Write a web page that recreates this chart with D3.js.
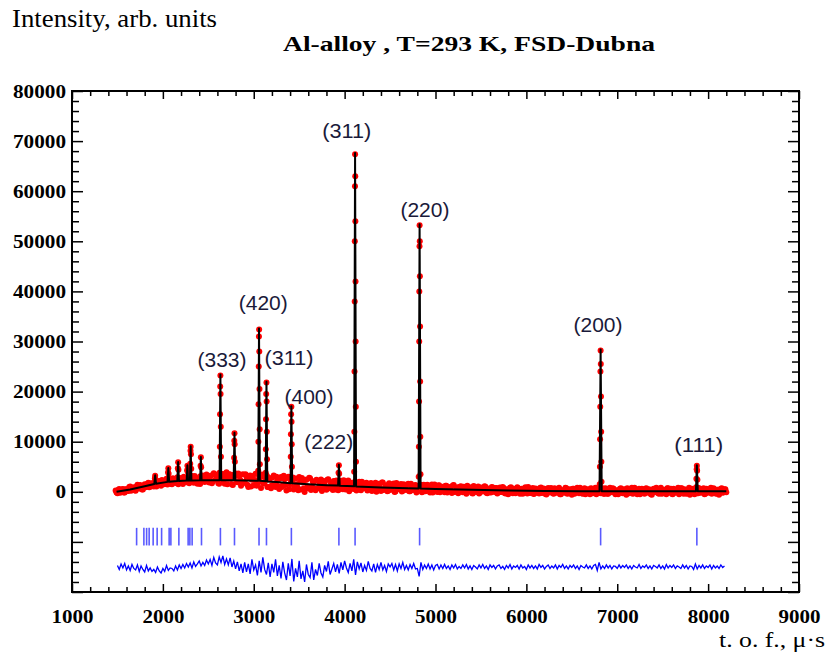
<!DOCTYPE html>
<html><head><meta charset="utf-8">
<script src="https://cdn.jsdelivr.net/npm/d3@7"></script>
<style>body{margin:0;background:#fff}</style>
</head><body>
<svg id="chart" width="829" height="662"></svg>
<script>
// ---------- data ----------
const xMajorTicks = [1000, 2000, 3000, 4000, 5000, 6000, 7000, 8000, 9000];
const yMajorTicks = [-20000, -10000, 0, 10000, 20000, 30000, 40000, 50000, 60000, 70000, 80000];
const yLabelTicks = [0, 10000, 20000, 30000, 40000, 50000, 60000, 70000, 80000];

// observed intensities, background part, set A (tof = obsStartA + i*obsStep)
const obsStartA = 1480, obsStep = 20;
const obsBgA = [
  250, -300, 570, -30, 580, -140, 500, 160, 1040, 460,
  930, 220, 1420, 640, 1030, 460, 1520, 1070, 1830, 1020,
  1700, 1060, 2320, 1590, 2170, 1190, 2120, 1580, 2600, 1850,
  2550, 1510, 2360, 1750, 2910, 2010, 2750, 1580, 2350, 1890,
  2890, 2020, 3160, 1800, 2660, 1630, 2820, 2200, 3250, 1940,
  3470, 2000, 3120, 1730, 3720, 2430, 3250, 1590, 3530, 2570,
  1590, 3900, 2590, 3430, 1470, 3010, 3650, 1890, 3210, 1220,
  3510, 2000, 2990, 980, 3270, 2410, 1300, 3590, 1620, 2600,
  780, 3050, 1920, 3290, 960, 2630, 1300, 3270, 940, 2160,
  580, 2950, 1320, 2490, 260, 2980, 1500, 2180, 460, 2640,
  920, 2950, 480, 1860, -60, 2420, 700, 2680, 1060, 2040,
  320, 2200, 785, 2470, 1055, 1840, 425, 2510, 795, 1580,
  2165, 450, 1635, 920, 2205, 490, 1775, 960, 2240, 520,
  1500, 580, 1760, 740, 2020, 300, 1490, 880, 1820, 410,
  1550, 140, 1225, 1810, 395, 1080, 165, 1850, 635, 1320,
  210, 1500, 490, 1680, 70, 1060, 550, 1540, 230, 1320,
  410, 1600, 90, 1080, 470, 1360, 150, 940, 1430, 20,
  1310, 200, 1090, -120, 1470, 360, 950, -60, 1330, 220,
  1010, -100, 1190, 280, 770, -240, 1350, 40, 930, 120,
  1110, -100, 695, -410, 985, 480, -225, 1170, 65, 760,
  -350, 840, 130, 1120, -190, 600, -110, 980, 175, 770,
  -335, 660, -45, 950, -255, 440, -465, 830, 125, 620,
  -285, 910, 5, 500, -405, 690, -115, 980, -225, 370,
  -435, 660, 255, -350, 850, -155, 545, -560, 740, 35,
  630, -370, 430, -70, 830, -470, 330, -170, 730, -270,
  525, -575, 625, 25, 825, -275, 325, -375, 725, -75,
  420, -480, 620, -180, 820, 20, 520, -280, 720, -380,
  410, -390, 810, 10, 610, -490, 310, -190, 710, -290,
  510, -590, 410, 110, 810, -290, 210, -490, 610, -90,
  410, -390, 710, -190, 310, -590, 610, 10, 510, -390,
  810, -290, 210, -490, 710, 110, -390, 610, -190, 410,
  -490, 710, -90, 510, -390, 310, -590, 610, 10, 410,
  -290, 710, -190, 410, -490, 610, 10, 510, -390, 710,
  -290, 410, -590, 610, -190, 510, -90
];

// observed intensities, background part, set B (tof = obsStartB + i*obsStep)
const obsStartB = 1490;
const obsBgB = [
  -150, 420, -170, 460, -160, 510, 280, 940, 210, 730,
  310, 990, 720, 1350, 480, 1160, 900, 1600, 900, 1650,
  1140, 1900, 1050, 1860, 1570, 2380, 1530, 2330, 1480, 2270,
  1570, 2710, 1900, 2530, 1500, 2420, 1840, 3000, 2110, 2730,
  1700, 2610, 2020, 3130, 1840, 2445, 1550, 2850, 2150, 3000,
  2770, 1850, 3240, 2130, 3520, 2610, 1700, 3290, 2280, 3570,
  3105, 1495, 3485, 2575, 1365, 3255, 2045, 3635, 2425, 1615,
  1805, 3495, 1385, 2875, 1065, 3155, 2345, 1230, 3510, 1990,
  3465, 1635, 2805, 975, 2445, 715, 2885, 1655, 3025, 1095,
  2665, 935, 3205, 1375, 2745, 515, 1990, 2870, 950, 1530,
  310, 1990, 2770, 650, 2430, 1110, 2790, 370, 2050, 630,
  2410, 692, 1678, 162, 2148, 1032, 2418, 702, 1688, 372,
  958, 2242, 328, 1812, 698, 2282, 468, 1450, 130, 1810,
  890, 1970, 250, 1530, 410, 1995, 685, 1675, 265, 1255,
  1745, 332, 1318, 2, 1588, 572, 1858, 342, 1028, 115,
  1705, 395, 1385, -25, 1765, 555, 1245, 35, 1525, 415,
  1405, 95, 1585, 375, 1265, -145, 1045, 835, -75, 1415,
  105, 1395, 285, 1175, -135, 1455, 345, 1235, -75, 915,
  105, 1195, -115, 975, 265, 1255, -55, 735, -275, 1015,
  105, 998, -108, 1188, 182, 878, -328, 668, -38, 1056,
  -155, 735, 125, 1015, -295, 595, -115, 878, -28, 768,
  -138, 858, -48, 748, -358, 438, 32, 928, -278, 518,
  -88, 708, -398, 598, 92, 888, -318, 478, -228, 768,
  -340, 458, -45, 750, -250, 648, -455, 342, -160, 735,
  -270, 730, -170, 530, -470, 330, 30, 830, -370, 430,
  -175, 625, -375, 425, -75, 825, -275, 225, -475, 525,
  -80, 720, -280, 420, -480, 620, -180, 320, -380, 720,
  -390, 510, -90, 710, -190, 210, -490, 610, 10, 410,
  -90, 710, -290, 410, -390, 810, -190, 310, -490, 610,
  -200, 600, 0, 500, -500, 400, -100, 800, -300, 300,
  -400, 400, -200, 700, -100, 600, -500, 300, 0, 800,
  -200, 700, -400, 300, -300, 800, -100, 500, -500, 400,
  -300, 600, 0, 700, -400, 400, -200, 800, -100, 500,
  -400, 400, -200, 700, -100, 500
];

// observed intensities on the Bragg peaks [tof, counts]
const obsPeaks = [
  [1909,1900],[1912,2700],[1915,3200],[1918,2500],[1921,1850],
  [2054,2500],[2057,3900],[2060,4700],[2063,3600],[2066,2400],
  [2162,2800],[2165,4700],[2168,5900],[2171,4400],[2174,2700],
  [2264,2800],[2267,4300],[2270,5200],[2273,4000],[2276,2700],
  [2298,3300],[2301,5600],[2304,8200],[2306,9000],[2309,7500],[2312,4600],[2315,2900],
  [2412,3100],[2415,5200],[2418,6900],[2421,4900],[2424,3000],
  [2624,3800],[2627,9000],[2629,15500],[2631,21000],[2633,23200],[2635,19500],[2637,13000],[2639,7000],[2642,3500],
  [2781,3400],[2784,6800],[2786,10200],[2788,11700],[2790,9500],[2792,6000],[2795,3200],
  [3049,4200],[3051,10000],[3053,17500],[3055,25000],[3057,31000],[3059,32400],[3061,28000],[3063,20500],[3065,12500],[3067,5500],
  [3131,3800],[3133,8500],[3135,14500],[3137,19500],[3140,21800],[3142,18000],[3144,12000],[3146,6500],[3149,3000],
  [3405,3000],[3407,7000],[3409,11500],[3411,15500],[3414,17000],[3416,14000],[3418,9500],[3420,5000],[3423,2400],
  [3930,2000],[3933,3800],[3937,5300],[3940,3600],[3944,1900],
  [4105,4000],[4107,12000],[4109,24000],[4111,38000],[4112,50000],[4114,61000],[4115,67400],[4117,63000],[4118,54000],[4120,42000],[4121,30000],[4123,17000],[4125,6000],
  [4815,3000],[4817,9000],[4819,18000],[4821,30000],[4822,40000],[4824,49000],[4825,53200],[4827,50000],[4828,43000],[4830,33000],[4831,22000],[4833,11000],[4835,3500],
  [6807,1500],[6809,5000],[6811,10500],[6813,17000],[6815,24000],[6817,28200],[6819,25500],[6821,19000],[6823,12000],[6825,6000],[6827,2000],
  [7868,900],[7871,2600],[7874,4500],[7876,5200],[7879,4200],[7882,2400],[7885,800]
];

// calculated profile [tof, counts]
const calcPts = [
  [1490,0],[1640,450],[1800,1100],
  [1906,1570],[1915,3300],[1924,1620],
  [2051,1980],[2060,4760],[2069,2000],
  [2159,2150],[2168,5960],[2177,2160],
  [2262,2250],[2270,5300],[2277,2260],
  [2298,2270],[2306,9100],[2314,2280],
  [2410,2300],[2418,6970],[2426,2300],
  [2624,2300],[2633,23400],[2642,2300],
  [2779,2300],[2788,11800],[2797,2290],
  [2900,2250],
  [3049,2200],[3058,32600],[3067,2190],
  [3131,2100],[3140,21960],[3149,2080],
  [3250,1950],
  [3405,1720],[3414,17100],[3423,1700],
  [3600,1500],[3800,1320],
  [3928,1240],[3937,5400],[3946,1230],
  [4104,1090],[4115,67600],[4126,1070],
  [4400,870],[4600,750],
  [4814,660],[4825,53400],[4836,640],
  [5000,550],[5400,400],[5800,250],[6200,180],[6600,130],
  [6805,120],[6817,28400],[6829,120],
  [7200,110],[7600,100],
  [7866,100],[7876,5300],[7886,100],
  [8200,100]
];

// Bragg reflection positions
const braggTof = [1711, 1791, 1821, 1849, 1893, 1937, 1986, 2069, 2088, 2176, 2278, 2297, 2322, 2425,
                  2633, 2788, 3058, 3140, 3414, 3937, 4115, 4825, 6817, 7876];
const braggTop = -7200, braggBottom = -10700;

// difference curve (obs - calc), drawn shifted by diffOffset
const diffStart = 1500, diffStep = 20, diffOffset = -15000;
const diffVals = [
  300, -500, 600, -200, 700, -600, 200, -700, 500, -300,
  -600, 400, -900, 200, -500, -1000, 300, -800, -200, -900,
  -500, -1100, 0, -800, -1200, -300, -900, 300, -700, -200,
  -300, -800, 200, -600, 400, -300, 500, -200, 700, 0,
  800, -200, 1000, 100, 600, 1200, 200, 900, 300, 1400,
  600, 1500, 300, 1900, 800, 400, 2000, 900, 2200, 500,
  1600, 400, 1800, 0, 1200, -400, 1000, -800, 600, -1200,
  900, -1000, 600, -1400, 1500, -600, 400, -1700, 1200, -1100,
  1900, -500, -1500, 800, -2000, 600, -1100, 1500, -1800, 300,
  -2300, 1000, -1200, -2600, 700, -1800, 1600, -2900, -300, -2000,
  1200, -2400, -800, -3000, 500, -1500, -2100, 900, -2600, -500,
  -1700, 700, -1200, -2000, 300, -900, 1100, -1500, -400, 700,
  -1000, 500, -1300, 900, -600, 1200, -200, -1100, 700, -800,
  1500, -1600, 1000, -400, 800, -1000, 300, -700, 1100, -300,
  -800, 600, -1100, 500, -500, 900, -600, 300, -900, 600,
  0, 700, -600, 500, -800, 600, -300, 900, -500, 300,
  -600, 500, -300, 700, -400, -300, -1900, 900, -500, 400,
  -300, 600, -400, 400, -600, 300, 500, -400, 400, -300,
  500, -300, 200, -500, 400, -200, 500, -400, 100, -300,
  400, -200, 500, -400, 200, -500, 300, 0, -400, 400,
  -200, 500, -300, 200, -500, 400, -100, 300, -400, 200,
  400, -300, 100, -500, 300, -200, 500, -400, 200, -100,
  300, -400, 400, -200, 100, -500, 400, -200, 300, -300,
  200, -400, 500, -100, 300, -400, 100, 400, -300, 200,
  -200, 400, -400, 300, -100, 500, -300, 200, -400, 300,
  -100, 400, -300, 200, -500, 300, 0, -200, 400, -300,
  200, -400, 300, 500, -700, 900, -400, 200, -300, 400,
  -200, 300, -400, 200, 100, -300, 400, -200, 300, -100,
  400, -300, 200, -400, 300, 0, -200, 500, -300, 200,
  -100, 400, -300, 200, -400, 300, 100, -200, 400, -300,
  200, -400, 500, -200, 300, -100, 400, -300, 200, 0,
  -300, 400, -200, 300, -400, 200, 100, -500, 600, -400,
  300, -200, 400, -300, 200, -100, 400, -400, 300, -200,
  200, -300, 400, -100, 200
];

// peak annotations
const peakLabels = ["(311)", "(220)", "(420)", "(333)", "(311)", "(400)", "(222)", "(200)", "(111)"];
const labelTof   = [4023, 4884, 3105, 2651, 3388, 3608, 3825, 6788, 7896];
const labelInt   = [70700, 54800, 36300, 24850, 25300, 17500, 8480, 31960, 8000];

const titleText = "Al-alloy , T=293 K, FSD-Dubna";
const yAxisTitle = "Intensity, arb. units";
const xAxisTitle = "t. o. f., \u03bc\u00b7s";

// ---------- drawing ----------
const svg = d3.select("#chart");
const x = d3.scaleLinear().domain([1000, 9000]).range([72, 799]);
const y = d3.scaleLinear().domain([-20000, 80000]).range([592, 91]);
const xMinor = d3.range(1000, 9001, 200).filter(v => xMajorTicks.indexOf(v) < 0);
const yMinor = d3.range(-20000, 80001, 2000).filter(v => yMajorTicks.indexOf(v) < 0);

svg.append("rect").attr("width", 829).attr("height", 662).attr("fill", "#fff");

// observed points
const obsAll = obsBgA.map((v, i) => [obsStartA + i * obsStep, v])
  .concat(obsBgB.map((v, i) => [obsStartB + i * obsStep, v]))
  .concat(obsPeaks);
svg.append("g").selectAll("circle").data(obsAll).join("circle")
  .attr("cx", d => x(d[0])).attr("cy", d => y(d[1])).attr("r", 3)
  .attr("fill", "#ff0000");

// calculated line
svg.append("path").datum(calcPts)
  .attr("d", d3.line().x(d => x(d[0])).y(d => y(d[1])))
  .attr("fill", "none").attr("stroke", "#000").attr("stroke-width", 2)
  .attr("stroke-linejoin", "round");

// Bragg ticks
svg.append("g").selectAll("line").data(braggTof).join("line")
  .attr("x1", d => x(d)).attr("x2", d => x(d))
  .attr("y1", y(braggTop)).attr("y2", y(braggBottom))
  .attr("stroke", "#5a5aff").attr("stroke-width", 1.6);

// difference curve
const diffPts = diffVals.map((v, i) => [diffStart + i * diffStep, diffOffset + v]);
svg.append("path").datum(diffPts)
  .attr("d", d3.line().x(d => x(d[0])).y(d => y(d[1])))
  .attr("fill", "none").attr("stroke", "#0000ff").attr("stroke-width", 1.3);

// axes
function clean(g) {
  g.select(".domain").remove();
  g.selectAll(".tick line").attr("stroke", "#000").attr("stroke-width", 1.5);
}
function noText(g) { g.selectAll("text").remove(); }

svg.append("g").attr("transform", "translate(0,592)")
  .call(d3.axisBottom(x).tickValues(xMinor).tickSize(-5).tickSizeOuter(0).tickFormat(""))
  .call(clean).call(noText);
svg.append("g").attr("transform", "translate(0,91)")
  .call(d3.axisTop(x).tickValues(xMinor).tickSize(-5).tickSizeOuter(0).tickFormat(""))
  .call(clean).call(noText);
svg.append("g").attr("transform", "translate(0,91)")
  .call(d3.axisTop(x).tickValues(xMajorTicks).tickSize(-8).tickSizeOuter(0).tickFormat(""))
  .call(clean).call(noText);

const xAx = svg.append("g").attr("transform", "translate(0,592)")
  .call(d3.axisBottom(x).tickValues(xMajorTicks).tickSize(-8).tickSizeOuter(0).tickFormat(d3.format("d")))
  .call(clean);
xAx.selectAll("text")
  .attr("y", 31).attr("dy", 0)
  .attr("fill", "#000")
  .style("font-family", "'Liberation Serif', 'Times New Roman', serif")
  .style("font-weight", "bold").style("font-size", "18px")
  .attr("textLength", d => String(d).length * 10.5)
  .attr("lengthAdjust", "spacingAndGlyphs");

svg.append("g").attr("transform", "translate(72,0)")
  .call(d3.axisLeft(y).tickValues(yMinor).tickSize(-7).tickSizeOuter(0).tickFormat(""))
  .call(clean).call(noText);
svg.append("g").attr("transform", "translate(799,0)")
  .call(d3.axisRight(y).tickValues(yMinor).tickSize(-7).tickSizeOuter(0).tickFormat(""))
  .call(clean).call(noText);
svg.append("g").attr("transform", "translate(799,0)")
  .call(d3.axisRight(y).tickValues(yMajorTicks).tickSize(-11).tickSizeOuter(0).tickFormat(""))
  .call(clean).call(noText);

const yAx = svg.append("g").attr("transform", "translate(72,0)")
  .call(d3.axisLeft(y).tickValues(yMajorTicks).tickSize(-11).tickSizeOuter(0).tickFormat(d3.format("d")))
  .call(clean);
yAx.selectAll("text").filter(d => yLabelTicks.indexOf(d) < 0).remove();
yAx.selectAll("text")
  .attr("x", -6).attr("dy", "0.34em")
  .attr("fill", "#000")
  .attr("text-anchor", "end")
  .style("font-family", "'Liberation Serif', 'Times New Roman', serif")
  .style("font-weight", "bold").style("font-size", "18px")
  .attr("textLength", d => String(d).length * 10.6)
  .attr("lengthAdjust", "spacingAndGlyphs");

// frame
svg.append("rect").attr("x", 72).attr("y", 91).attr("width", 727).attr("height", 501)
  .attr("fill", "none").attr("stroke", "#000").attr("stroke-width", 2);

// peak labels
svg.append("g").selectAll("text").data(peakLabels).join("text")
  .attr("x", (d, i) => x(labelTof[i])).attr("y", (d, i) => y(labelInt[i]))
  .attr("text-anchor", "middle")
  .attr("fill", "#1a1a3a")
  .style("font-family", "'Liberation Sans', Arial, sans-serif")
  .style("font-size", "20px")
  .attr("textLength", 49).attr("lengthAdjust", "spacingAndGlyphs")
  .text(d => d);

// titles
svg.append("text").attr("x", 12).attr("y", 27)
  .style("font-family", "'Liberation Serif', 'Times New Roman', serif")
  .style("font-size", "25px").attr("fill", "#000")
  .attr("textLength", 205).attr("lengthAdjust", "spacingAndGlyphs")
  .text(yAxisTitle);
svg.append("text").attr("x", 283).attr("y", 51)
  .style("font-family", "'Liberation Serif', 'Times New Roman', serif")
  .style("font-size", "22px").style("font-weight", "bold").attr("fill", "#000")
  .attr("textLength", 372).attr("lengthAdjust", "spacingAndGlyphs")
  .text(titleText);
svg.append("text").attr("x", 719).attr("y", 647)
  .style("font-family", "'Liberation Serif', 'Times New Roman', serif")
  .style("font-size", "22px").attr("fill", "#000")
  .attr("textLength", 106).attr("lengthAdjust", "spacingAndGlyphs")
  .text(xAxisTitle);
</script>
</body></html>
